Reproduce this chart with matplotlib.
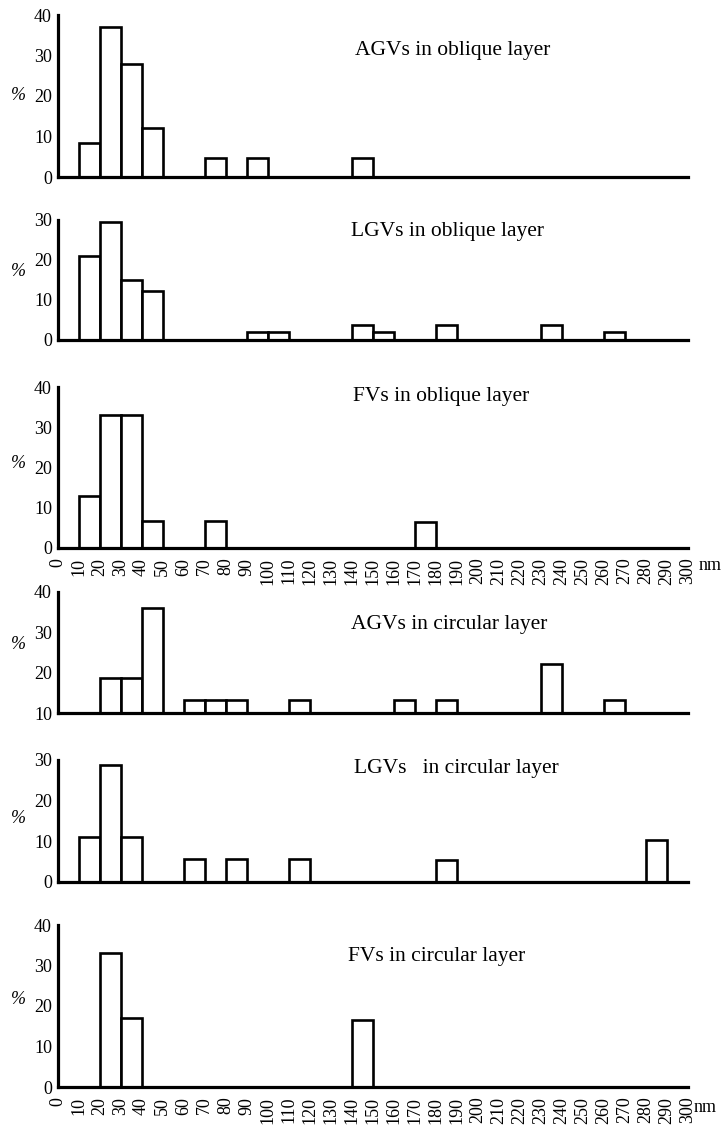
import numpy as np
import matplotlib
matplotlib.use("Agg")
import matplotlib.pyplot as plt
from matplotlib.transforms import blended_transform_factory

# ---------------- data ----------------
bin_left = list(range(0, 300, 10))          # 0-10, 10-20, ..., 290-300 nm
xtick_values = list(range(0, 310, 10))

titles = ["AGVs in oblique layer", "LGVs in oblique layer", "FVs in oblique layer",
          "AGVs in circular layer", "LGVs   in circular layer", "FVs in circular layer"]

agv_oblique = [0, 8.5, 37, 28, 12, 0, 0, 4.7, 0, 4.7, 0, 0, 0, 0, 4.7,
               0, 0, 0, 0, 0, 0, 0, 0, 0, 0, 0, 0, 0, 0, 0]
lgv_oblique = [0, 21, 29.5, 15, 12.3, 0, 0, 0, 0, 2, 2, 0, 0, 0, 3.8,
               2, 0, 0, 3.8, 0, 0, 0, 0, 3.8, 0, 0, 2, 0, 0, 0]
fv_oblique = [0, 12.8, 33, 33, 6.6, 0, 0, 6.6, 0, 0, 0, 0, 0, 0, 0,
              0, 0, 6.5, 0, 0, 0, 0, 0, 0, 0, 0, 0, 0, 0, 0]
# values as read on the printed axis (baseline of this panel is labelled 10)
agv_circular = [0, 0, 18.6, 18.6, 36, 0, 13.3, 13.3, 13.3, 0, 0, 13.3, 0, 0, 0,
                0, 13.3, 0, 13.3, 0, 0, 0, 0, 22.1, 0, 0, 13.3, 0, 0, 0]
lgv_circular = [0, 11, 28.7, 11, 0, 0, 5.6, 0, 5.6, 0, 0, 5.6, 0, 0, 0,
                0, 0, 0, 5.3, 0, 0, 0, 0, 0, 0, 0, 0, 0, 10.4, 0]
fv_circular = [0, 0, 33, 17, 0, 0, 0, 0, 0, 0, 0, 0, 0, 0, 16.6,
               0, 0, 0, 0, 0, 0, 0, 0, 0, 0, 0, 0, 0, 0, 0]

series = [agv_oblique, lgv_oblique, fv_oblique, agv_circular, lgv_circular, fv_circular]
y_base = [0, 0, 0, 10, 0, 0]
y_top = [40, 30, 40, 40, 30, 40]
y_ticks = [[0, 10, 20, 30, 40], [0, 10, 20, 30], [0, 10, 20, 30, 40],
           [10, 20, 30, 40], [0, 10, 20, 30], [0, 10, 20, 30, 40]]

# ---------------- layout (pixels) ----------------
W, H = 727, 1127
x0_px, x1_px = 57.5, 687.5
panel_px = [(15, 177), (220, 340), (387, 548), (592, 713), (760, 882), (925, 1087)]
title_px = [(355, 50), (351, 231), (353, 397), (351, 625), (354, 768), (348, 957)]
pct_y = [20, 17, 21, 27, 15.5, 21.5]
show_xticks = [False, False, True, False, False, True]
nm_px = [None, None, (699, 565), None, None, (694, 1108)]

SERIF = ["Liberation Serif", "DejaVu Serif"]
plt.rcParams["font.family"] = SERIF

fig = plt.figure(figsize=(W / 100, H / 100), dpi=100)
fig.patch.set_facecolor("white")

for i, vals in enumerate(series):
    top, bot = panel_px[i]
    ax = fig.add_axes([x0_px / W, 1 - bot / H, (x1_px - x0_px) / W, (bot - top) / H])
    ax.set_facecolor("none")
    vals = np.asarray(vals, dtype=float)
    edges = np.asarray(bin_left, dtype=float)
    m = vals > 0
    ax.bar(edges[m], vals[m] - y_base[i], width=10, bottom=y_base[i], align="edge",
           facecolor="white", edgecolor="black", linewidth=1.9, zorder=3, clip_on=False)
    ax.set_xlim(0, 300)
    ax.set_ylim(y_base[i], y_top[i])
    for s in ("top", "right"):
        ax.spines[s].set_visible(False)
    for s in ("left", "bottom"):
        ax.spines[s].set_linewidth(2.3)
        ax.spines[s].set_zorder(4)
    ax.set_yticks(y_ticks[i])
    ax.set_yticklabels([str(t) for t in y_ticks[i]], fontsize=13)
    ax.tick_params(axis="y", length=0, pad=4)
    if show_xticks[i]:
        ax.set_xticks(xtick_values)
        ax.set_xticklabels([str(t) for t in xtick_values], rotation=90, fontsize=13,
                           va="top", ha="center")
        ax.tick_params(axis="x", length=0, pad=7)
    else:
        ax.set_xticks([])
    tr = blended_transform_factory(fig.transFigure, ax.transData)
    ax.text(18 / W, pct_y[i], "%", transform=tr, fontsize=13, style="italic",
            ha="center", va="center")
    tx, ty = title_px[i]
    fig.text(tx / W, 1 - ty / H, titles[i], fontsize=15.5, ha="left", va="center")
    if nm_px[i] is not None:
        nx, ny = nm_px[i]
        fig.text(nx / W, 1 - ny / H, "nm", fontsize=13, ha="left", va="center")

fig.savefig("out.png", dpi=100, facecolor="white")
